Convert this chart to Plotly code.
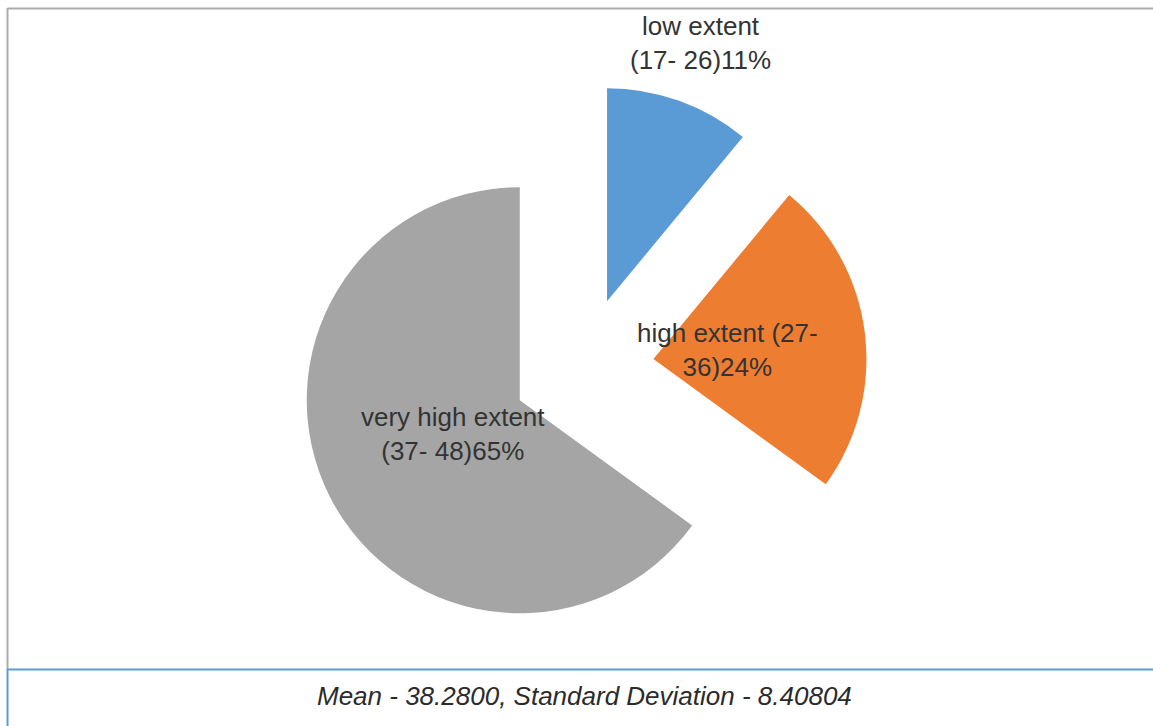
import math
import plotly.graph_objects as go

# ---- data ----
categories = ["low extent (17- 26)", "high extent (27- 36)", "very high extent (37- 48)"]
label_lines = [["low extent", "(17- 26)11%"], ["high extent (27-", "36)24%"], ["very high extent", "(37- 48)65%"]]
values = [11, 24, 65]
colors = ["#5B9BD5", "#ED7D31", "#A5A5A5"]
footer = "Mean - 38.2800, Standard Deviation - 8.40804"

W, H = 1153, 726
PULL = 0.333
DOM_X = [0.0113, 1.0]
DOM_Y = [1 - 652 / 726, 1 - 84 / 726]
FONT = "Liberation Sans, Arial, sans-serif"
TXT = "#333333"

fig = go.Figure(go.Pie(
    labels=categories, values=values, sort=False, direction="clockwise", rotation=0,
    pull=[PULL] * len(values), marker=dict(colors=colors, line=dict(width=0)),
    textinfo="none", hoverinfo="label+percent", showlegend=False,
    domain=dict(x=DOM_X, y=DOM_Y),
))

# label positions derived from slice angles
bw = (DOM_X[1] - DOM_X[0]) * W
bh = (DOM_Y[1] - DOM_Y[0]) * H
r = min(bw, bh) / (2 + 2 * PULL)
cx = (DOM_X[0] + DOM_X[1]) / 2 * W
cy = (1 - (DOM_Y[0] + DOM_Y[1]) / 2) * H
total = sum(values)
label_frac = [1.29, 0.35, 0.35]
cum = 0
annotations = []
for i, v in enumerate(values):
    mid = (cum + v / 2) / total * 2 * math.pi
    cum += v
    d = (PULL + label_frac[i]) * r
    px = cx + d * math.sin(mid)
    py = cy - d * math.cos(mid)
    annotations.append(dict(
        x=px / W, y=1 - py / H, xref="paper", yref="paper", showarrow=False,
        text="<br>".join(label_lines[i]), font=dict(family=FONT, size=26, color=TXT),
        xanchor="center", yanchor="middle", align="center",
    ))

annotations.append(dict(
    x=584.5 / W, y=1 - 696 / H, xref="paper", yref="paper", showarrow=False,
    text="<i>" + footer + "</i>", font=dict(family=FONT, size=26, color="#2b2b2b"),
    xanchor="center", yanchor="middle",
))

gray = "#ABABAB"
blue = "#5B9BD5"
shapes = [
    dict(type="line", xref="paper", yref="paper", x0=7.5 / W, x1=1, y0=1 - 8.5 / H, y1=1 - 8.5 / H, line=dict(color=gray, width=2)),
    dict(type="line", xref="paper", yref="paper", x0=7.5 / W, x1=7.5 / W, y0=1 - 8 / H, y1=1 - 669 / H, line=dict(color=gray, width=2)),
    dict(type="line", xref="paper", yref="paper", x0=7 / W, x1=1, y0=1 - 669.5 / H, y1=1 - 669.5 / H, line=dict(color=blue, width=2)),
    dict(type="line", xref="paper", yref="paper", x0=7.5 / W, x1=7.5 / W, y0=1 - 669 / H, y1=0, line=dict(color=blue, width=2)),
]

fig.update_layout(
    width=W, height=H, margin=dict(l=0, r=0, t=0, b=0),
    paper_bgcolor="white", plot_bgcolor="white",
    annotations=annotations, shapes=shapes,
)
fig.write_html("out.html")
